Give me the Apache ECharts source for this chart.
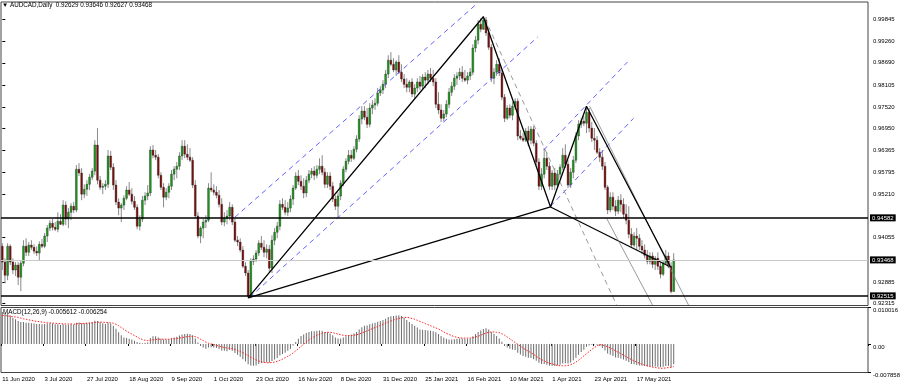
<!DOCTYPE html>
<html><head><meta charset="utf-8">
<script src="https://cdn.jsdelivr.net/npm/echarts/dist/echarts.min.js"></script>
<style>html,body{margin:0;padding:0;background:#fff}#c{width:900px;height:387px}</style>
</head><body><div id="c"></div>
<script>
const openP = [.9383,.9341,.9306,.9383,.9341,.9320,.9333,.9301,.9338,.9383,.9367,.9386,.9380,.9370,.9365,.9388,.9383,.9410,.9431,.9444,
.9433,.9428,.9449,.9441,.9492,.9455,.9473,.9489,.9479,.9587,.9577,.9521,.9534,.9547,.9566,.9582,.9651,.9558,.9539,.9542,
.9547,.9622,.9592,.9545,.9500,.9484,.9492,.9510,.9532,.9521,.9502,.9486,.9436,.9455,.9505,.9516,.9524,.9638,.9624,.9619,
.9571,.9539,.9513,.9526,.9542,.9574,.9587,.9595,.9622,.9648,.9627,.9619,.9611,.9545,.9463,.9410,.9431,.9447,.9452,.9537,
.9532,.9526,.9518,.9494,.9447,.9457,.9463,.9486,.9447,.9399,.9394,.9373,.9330,.9312,.9251,.9343,.9349,.9365,.9391,.9380,
.9367,.9375,.9325,.9399,.9420,.9436,.9494,.9486,.9473,.9484,.9508,.9537,.9569,.9555,.9542,.9524,.9558,.9574,.9582,.9571,
.9587,.9595,.9579,.9547,.9569,.9542,.9508,.9489,.9516,.9550,.9587,.9608,.9624,.9616,.9640,.9667,.9720,.9741,.9725,.9706,
.9749,.9757,.9762,.9789,.9797,.9812,.9839,.9876,.9865,.9850,.9871,.9844,.9826,.9812,.9804,.9818,.9786,.9802,.9818,.9807,
.9831,.9823,.9839,.9828,.9818,.9759,.9744,.9722,.9733,.9759,.9791,.9807,.9828,.9834,.9844,.9828,.9823,.9834,.9844,.9908,
.9929,.9971,.9958,.9982,.9948,.9910,.9828,.9844,.9865,.9842,.9778,.9722,.9749,.9730,.9754,.9767,.9675,.9669,.9664,.9688,
.9664,.9693,.9656,.9606,.9542,.9574,.9616,.9595,.9542,.9577,.9545,.9574,.9592,.9624,.9600,.9545,.9579,.9611,.9675,.9706,
.9714,.9709,.9738,.9696,.9669,.9664,.9632,.9619,.9595,.9539,.9479,.9513,.9489,.9476,.9505,.9494,.9468,.9452,.9415,.9386,
.9410,.9404,.9383,.9373,.9359,.9343,.9357,.9335,.9351,.9330,.9309,.9338,.9357,.9330,.92629];
const highP = [.9391,.9351,.9391,.9388,.9351,.9341,.9341,.9346,.9399,.9404,.9394,.9399,.9388,.9383,.9396,.9402,.9418,.9439,.9452,.9455,
.9447,.9473,.9468,.9505,.9502,.9484,.9497,.9500,.9598,.9603,.9590,.9547,.9558,.9574,.9590,.9664,.9696,.9569,.9550,.9558,
.9638,.9635,.9603,.9558,.9510,.9497,.9518,.9542,.9553,.9537,.9516,.9494,.9465,.9516,.9526,.9545,.9648,.9651,.9638,.9627,
.9579,.9550,.9537,.9550,.9585,.9595,.9606,.9632,.9664,.9664,.9653,.9643,.9619,.9558,.9473,.9436,.9457,.9465,.9550,.9579,
.9547,.9542,.9532,.9510,.9473,.9479,.9500,.9494,.9457,.9410,.9404,.9383,.9341,.9320,.9351,.9359,.9373,.9399,.9410,.9399,
.9388,.9386,.9412,.9431,.9447,.9505,.9510,.9505,.9500,.9518,.9545,.9579,.9585,.9571,.9563,.9569,.9585,.9590,.9595,.9598,
.9616,.9624,.9590,.9579,.9579,.9553,.9518,.9526,.9558,.9595,.9616,.9638,.9638,.9648,.9677,.9730,.9754,.9754,.9749,.9762,
.9770,.9775,.9802,.9807,.9823,.9850,.9889,.9897,.9881,.9876,.9889,.9865,.9839,.9828,.9823,.9828,.9812,.9828,.9834,.9839,
.9844,.9850,.9855,.9850,.9828,.9791,.9759,.9744,.9770,.9802,.9818,.9839,.9844,.9855,.9860,.9850,.9844,.9855,.9918,.9940,
.9982,.9987,.9993,.9990,.9961,.9918,.9855,.9876,.9881,.9850,.9786,.9757,.9759,.9765,.9775,.9775,.9691,.9683,.9696,.9701,
.9701,.9701,.9664,.9616,.9590,.9643,.9632,.9606,.9585,.9590,.9585,.9600,.9643,.9653,.9611,.9590,.9622,.9685,.9717,.9722,
.9728,.9751,.9749,.9712,.9696,.9675,.9643,.9638,.9606,.9545,.9526,.9526,.9505,.9516,.9521,.9510,.9494,.9489,.9431,.9420,
.9431,.9415,.9399,.9388,.9373,.9367,.9367,.9357,.9367,.9341,.9346,.9373,.9367,.9341,.93646];
const lowP = [.9320,.9285,.9293,.9333,.9309,.9304,.9280,.9264,.9330,.9357,.9357,.9373,.9362,.9357,.9346,.9378,.9378,.9394,.9423,.9425,
.9423,.9420,.9439,.9436,.9439,.9431,.9452,.9471,.9473,.9569,.9505,.9510,.9516,.9532,.9558,.9571,.9547,.9532,.9521,.9532,
.9537,.9585,.9532,.9492,.9465,.9447,.9479,.9505,.9516,.9494,.9479,.9428,.9425,.9447,.9492,.9505,.9516,.9616,.9611,.9563,
.9532,.9486,.9505,.9510,.9532,.9558,.9563,.9585,.9611,.9616,.9611,.9606,.9537,.9457,.9404,.9391,.9404,.9431,.9447,.9526,
.9518,.9510,.9486,.9439,.9436,.9441,.9452,.9439,.9394,.9383,.9367,.9325,.9304,.9245,.9245,.9333,.9341,.9357,.9373,.9354,
.9351,.9314,.9312,.9386,.9404,.9425,.9479,.9465,.9463,.9473,.9492,.9532,.9545,.9532,.9510,.9513,.9550,.9563,.9558,.9563,
.9574,.9571,.9537,.9537,.9532,.9500,.9479,.9460,.9505,.9542,.9579,.9600,.9606,.9611,.9632,.9659,.9706,.9717,.9696,.9698,
.9733,.9744,.9754,.9781,.9786,.9802,.9828,.9860,.9844,.9834,.9839,.9818,.9802,.9791,.9791,.9778,.9775,.9791,.9797,.9797,
.9802,.9812,.9818,.9807,.9749,.9733,.9712,.9714,.9725,.9749,.9781,.9797,.9810,.9823,.9818,.9818,.9812,.9823,.9836,.9897,
.9918,.9950,.9956,.9940,.9903,.9818,.9812,.9834,.9834,.9770,.9712,.9717,.9722,.9717,.9744,.9664,.9664,.9659,.9659,.9648,
.9653,.9648,.9598,.9532,.9532,.9563,.9585,.9532,.9532,.9532,.9537,.9563,.9585,.9590,.9537,.9537,.9563,.9603,.9664,.9696,
.9701,.9683,.9685,.9659,.9638,.9627,.9606,.9585,.9532,.9468,.9473,.9479,.9463,.9468,.9473,.9457,.9441,.9404,.9378,.9380,
.9373,.9373,.9362,.9351,.9335,.9335,.9325,.9320,.9320,.9298,.9304,.9333,.9325,.9258,.92627];
const closeP = [.9341,.9306,.9383,.9341,.9320,.9333,.9301,.9338,.9383,.9367,.9386,.9380,.9370,.9365,.9388,.9383,.9410,.9431,.9444,.9433,
.9428,.9449,.9441,.9492,.9455,.9473,.9489,.9479,.9587,.9577,.9521,.9534,.9547,.9566,.9582,.9651,.9558,.9539,.9542,.9547,
.9622,.9592,.9545,.9500,.9484,.9492,.9510,.9532,.9521,.9502,.9486,.9436,.9455,.9505,.9516,.9524,.9638,.9624,.9619,.9571,
.9539,.9513,.9526,.9542,.9574,.9587,.9595,.9622,.9648,.9627,.9619,.9611,.9545,.9463,.9410,.9431,.9447,.9452,.9537,.9532,
.9526,.9518,.9494,.9447,.9457,.9463,.9486,.9447,.9399,.9394,.9373,.9330,.9312,.9251,.9343,.9349,.9365,.9391,.9380,.9367,
.9375,.9325,.9399,.9420,.9436,.9494,.9486,.9473,.9484,.9508,.9537,.9569,.9555,.9542,.9524,.9558,.9574,.9582,.9571,.9587,
.9595,.9579,.9547,.9569,.9542,.9508,.9489,.9516,.9550,.9587,.9608,.9624,.9616,.9640,.9667,.9720,.9741,.9725,.9706,.9749,
.9757,.9762,.9789,.9797,.9812,.9839,.9876,.9865,.9850,.9871,.9844,.9826,.9812,.9804,.9818,.9786,.9802,.9818,.9807,.9831,
.9823,.9839,.9828,.9818,.9759,.9744,.9722,.9733,.9759,.9791,.9807,.9828,.9834,.9844,.9828,.9823,.9834,.9844,.9908,.9929,
.9971,.9958,.9982,.9948,.9910,.9828,.9844,.9865,.9842,.9778,.9722,.9749,.9730,.9754,.9767,.9675,.9669,.9664,.9688,.9664,
.9693,.9656,.9606,.9542,.9574,.9616,.9595,.9542,.9577,.9545,.9574,.9592,.9624,.9600,.9545,.9579,.9611,.9675,.9706,.9714,
.9709,.9738,.9696,.9669,.9664,.9632,.9619,.9595,.9539,.9479,.9513,.9489,.9476,.9505,.9494,.9468,.9452,.9415,.9386,.9410,
.9404,.9383,.9373,.9359,.9343,.9357,.9335,.9351,.9330,.9309,.9338,.9357,.9330,.9263,.93468];
const macdHist = [.0088,.0086,.0082,.0078,.0072,.0068,.0063,.0060,.0060,.0058,.0058,.0057,.0056,.0055,.0055,.0054,.0055,.0056,.0057,.0056,
.0054,.0054,.0052,.0054,.0053,.0053,.0054,.0053,.0058,.0059,.0057,.0057,.0058,.0059,.0060,.0064,.0063,.0060,.0057,.0055,
.0058,.0056,.0050,.0042,.0032,.0024,.0018,.0016,.0014,.0012,.0009,.0005,.0003,.0002,.0003,.0004,.0016,.0021,.0021,.0018,
.0014,.0012,.0012,.0013,.0016,.0018,.0020,.0023,.0026,.0027,.0028,.0027,.0024,.0015,.0004,-.0006,-.0010,-.0013,-.0010,-.0009,
-.0010,-.0011,-.0014,-.0018,-.0019,-.0020,-.0017,-.0019,-.0025,-.0030,-.0035,-.0042,-.0048,-.0056,-.0059,-.0060,-.0059,-.0055,-.0053,-.0052,
-.0051,-.0052,-.0047,-.0043,-.0039,-.0032,-.0028,-.0024,-.0019,-.0014,-.0004,.0005,.0014,.0022,.0026,.0030,.0033,.0035,.0035,.0036,
.0037,.0036,.0033,.0032,.0029,.0024,.0018,.0015,.0015,.0018,.0021,.0024,.0026,.0029,.0033,.0040,.0046,.0050,.0051,.0054,
.0056,.0058,.0061,.0063,.0066,.0069,.0074,.0076,.0077,.0078,.0079,.0077,.0071,.0066,.0060,.0055,.0050,.0045,.0040,.0039,
.0038,.0037,.0036,.0035,.0032,.0027,.0022,.0017,.0014,.0012,.0012,.0013,.0014,.0015,.0015,.0014,.0014,.0015,.0021,.0027,
.0033,.0037,.0041,.0043,.0040,.0033,.0028,.0022,.0015,.0006,-.0006,-.0010,-.0013,-.0015,-.0017,-.0024,-.0029,-.0033,-.0035,-.0038,
-.0039,-.0042,-.0046,-.0052,-.0055,-.0055,-.0057,-.0060,-.0060,-.0061,-.0059,-.0057,-.0054,-.0053,-.0054,-.0051,-.0045,-.0038,-.0030,-.0022,
-.0016,-.0008,-.0004,-.0002,-.0001,-.0002,-.0006,-.0011,-.0018,-.0026,-.0030,-.0033,-.0037,-.0038,-.0040,-.0043,-.0046,-.0050,-.0055,-.0056,
-.0058,-.0059,-.0060,-.0061,-.0062,-.0062,-.0063,-.0062,-.0063,-.0064,-.0063,-.0061,-.0061,-.0065,-.005612];
const macdSignal = [.0078,.0078,.0077,.0076,.0075,.0074,.0073,.0071,.0069,.0068,.0066,.0065,.0063,.0062,.0061,.0060,.0059,.0058,.0058,.0057,
.0057,.0056,.0056,.0055,.0055,.0055,.0055,.0054,.0055,.0056,.0056,.0056,.0057,.0057,.0058,.0059,.0060,.0060,.0060,.0059,
.0059,.0058,.0057,.0054,.0050,.0045,.0040,.0035,.0031,.0027,.0023,.0019,.0015,.0012,.0010,.0009,.0010,.0011,.0012,.0013,
.0013,.0013,.0013,.0013,.0014,.0014,.0015,.0016,.0017,.0019,.0020,.0021,.0021,.0020,.0017,.0013,.0009,.0005,.0002,.0000,
-.0002,-.0004,-.0006,-.0008,-.0010,-.0011,-.0012,-.0013,-.0015,-.0018,-.0021,-.0024,-.0028,-.0032,-.0037,-.0041,-.0044,-.0047,-.0049,-.0051,
-.0052,-.0052,-.0051,-.0050,-.0048,-.0045,-.0042,-.0038,-.0034,-.0030,-.0025,-.0019,-.0013,-.0007,-.0001,.0005,.0011,.0016,.0020,.0024,
.0027,.0029,.0031,.0032,.0032,.0031,.0029,.0027,.0025,.0024,.0023,.0023,.0023,.0024,.0025,.0027,.0030,.0033,.0036,.0039,
.0042,.0045,.0048,.0051,.0054,.0057,.0060,.0063,.0066,.0068,.0070,.0072,.0073,.0073,.0072,.0070,.0068,.0065,.0062,.0059,
.0056,.0053,.0050,.0047,.0044,.0041,.0037,.0033,.0029,.0026,.0023,.0020,.0018,.0017,.0016,.0016,.0016,.0016,.0017,.0019,
.0021,.0024,.0027,.0030,.0032,.0033,.0033,.0032,.0031,.0028,.0024,.0019,.0014,.0009,.0004,-.0001,-.0006,-.0011,-.0016,-.0020,
-.0024,-.0029,-.0034,-.0039,-.0043,-.0047,-.0050,-.0053,-.0055,-.0057,-.0059,-.0060,-.0060,-.0060,-.0059,-.0057,-.0054,-.0050,-.0045,-.0039,
-.0033,-.0027,-.0021,-.0015,-.0010,-.0005,-.0002,-.0003,-.0005,-.0008,-.0011,-.0015,-.0019,-.0023,-.0027,-.0031,-.0035,-.0039,-.0043,-.0047,
-.0050,-.0053,-.0056,-.0058,-.0060,-.0062,-.0064,-.0065,-.0066,-.0067,-.0067,-.0066,-.0065,-.0064,-.006254];

const dateTicks = ['11 Jun 2020','3 Jul 2020','27 Jul 2020','18 Aug 2020','9 Sep 2020','1 Oct 2020','23 Oct 2020','16 Nov 2020',
  '8 Dec 2020','31 Dec 2020','25 Jan 2021','16 Feb 2021','10 Mar 2021','1 Apr 2021','23 Apr 2021','17 May 2021'];
const priceTicks = [0.99845,0.99260,0.98690,0.98105,0.97520,0.96950,0.96365,0.95795,0.95210,0.94055,0.92885,0.92315];
const macdTicks = [0.010016, 0, -0.007858];
const levelLines = [0.94582, 0.92515];
const bidLine = 0.93468;
// harmonic pattern points X, A, B, C, D as [bar index, price]
const patX = [93, 0.9246], patA = [182, 0.9991], patB = [207.4, 0.9487], patC = [221, 0.9754], patD = [252.8, 0.9328];
const blueChannels = [
  [[88.0, 0.9460], [179.8, 1.0027]],
  [[93.6, 0.9248], [202.5, 0.9937]],
  [[204.8, 0.9638], [236.5, 0.9871]],
  [[207.4, 0.9489], [238.8, 0.9722]]
];
const grayDashed = [[[182.5, 0.9987], [232.4, 0.9227]]];
const graySolid = [[[222.2, 0.9754], [259.6, 0.9227]], [[228.6, 0.9457], [246.0, 0.9227]]];

const N_SLOTS = 328;
const holidays = ['2020-12-25', '2021-01-01'];
const months = ['Jan','Feb','Mar','Apr','May','Jun','Jul','Aug','Sep','Oct','Nov','Dec'];
const categories = [];
{
  let d = new Date(Date.UTC(2020, 5, 11));
  while (categories.length < N_SLOTS) {
    const dow = d.getUTCDay();
    const iso = d.toISOString().slice(0, 10);
    if (dow !== 0 && dow !== 6 && holidays.indexOf(iso) < 0) {
      categories.push(d.getUTCDate() + ' ' + months[d.getUTCMonth()] + ' ' + d.getUTCFullYear());
    }
    d = new Date(d.getTime() + 86400000);
  }
}
const nBars = closeP.length;
const candleData = closeP.map((c, i) => [i, openP[i], highP[i], lowP[i], c]);
const FONT = 'Liberation Sans, Arial, sans-serif';
const showTick = (idx, val) => idx < nBars && dateTicks.indexOf(val) >= 0;
const X_MIN = -0.5, X_MAX = N_SLOTS - 0.5;

function seg(p, q, style, label) {
  return [{coord: p, lineStyle: style, label: label || {show: false}}, {coord: q}];
}
const blackStyle = {color: '#000', width: 1.3, type: 'solid'};
const blueStyle = {color: '#5050ff', width: 0.9, type: [5, 4]};
const grayDashStyle = {color: '#808080', width: 0.8, type: [5, 4]};
const graySolidStyle = {color: '#808080', width: 0.8, type: 'solid'};
const hlLabel = (v) => ({show: true, position: 'end', distance: 2, formatter: v.toFixed(5),
  backgroundColor: '#000', color: '#fff', fontSize: 6, fontFamily: FONT, padding: [1, 2, 0, 2]});
const hLine = (v, style) => seg([X_MIN, v], [X_MAX, v], style, hlLabel(v));

const markData = [
  seg(patX, patB, blackStyle),
  seg(patB, patD, blackStyle),
  ...blueChannels.map(s => seg(s[0], s[1], blueStyle)),
  ...grayDashed.map(s => seg(s[0], s[1], grayDashStyle)),
  ...graySolid.map(s => seg(s[0], s[1], graySolidStyle)),
  hLine(bidLine, {color: '#c8c8c8', width: 1, type: 'solid'}),
  hLine(levelLines[0], {color: '#000', width: 1.5, type: 'solid'}),
  hLine(levelLines[1], {color: '#000', width: 1.5, type: 'solid'})
];

const chart = echarts.init(document.getElementById('c'), null, {renderer: 'canvas'});
chart.setOption({
  animation: false,
  backgroundColor: '#fff',
  textStyle: {fontFamily: FONT},
  title: [
    {text: '\u25BC AUDCAD,Daily  ' + openP[nBars-1].toFixed(5) + ' ' + highP[nBars-1].toFixed(5) + ' ' + lowP[nBars-1].toFixed(5) + ' ' + closeP[nBars-1].toFixed(5),
     left: 2, top: 2, padding: 0, textStyle: {fontSize: 6.3, fontWeight: 'normal', color: '#000', fontFamily: FONT}},
    {text: 'MACD(12,26,9) ' + macdHist[nBars-1].toFixed(6) + ' ' + macdSignal[nBars-1].toFixed(6),
     left: 3, top: 309, padding: 0, textStyle: {fontSize: 6.3, fontWeight: 'normal', color: '#000', fontFamily: FONT}}
  ],
  grid: [
    {left: 1, top: 2, width: 867, height: 303.5, show: true, borderColor: '#444', borderWidth: 1, backgroundColor: '#fff', outerBoundsMode: 'none'},
    {left: 1, top: 307.5, width: 867, height: 65, show: true, borderColor: '#444', borderWidth: 1, backgroundColor: '#fff', outerBoundsMode: 'none'}
  ],
  xAxis: [
    {type: 'category', gridIndex: 0, data: categories, boundaryGap: true,
     axisLine: {show: false}, axisTick: {show: false}, axisLabel: {show: false}, splitLine: {show: false}},
    {type: 'category', gridIndex: 1, data: categories, boundaryGap: true,
     axisLine: {show: false},
     axisTick: {show: true, interval: showTick, length: 2, lineStyle: {color: '#000'}},
     axisLabel: {show: true, interval: showTick, align: 'left', fontSize: 6, color: '#000', margin: 4, fontFamily: FONT},
     splitLine: {show: false}},
    {type: 'value', gridIndex: 0, min: X_MIN, max: X_MAX, show: false}
  ],
  yAxis: [
    {type: 'value', gridIndex: 0, position: 'right', min: 0.9226, max: 1.0030, scale: true,
     axisLine: {show: false}, splitLine: {show: false},
     axisTick: {show: true, customValues: priceTicks, length: 3, lineStyle: {color: '#000'}},
     axisLabel: {show: true, customValues: priceTicks, formatter: v => v.toFixed(5), fontSize: 6, color: '#000', margin: 5, fontFamily: FONT}},
    {type: 'value', gridIndex: 1, position: 'right', min: macdTicks[2], max: macdTicks[0], scale: true,
     axisLine: {show: false}, splitLine: {show: false},
     axisTick: {show: true, customValues: macdTicks, length: 3, lineStyle: {color: '#000'}},
     axisLabel: {show: true, customValues: macdTicks, formatter: v => (v === 0 ? '0.00' : v.toFixed(6)), fontSize: 6, color: '#000', margin: 5, verticalAlign: 'top', fontFamily: FONT}}
  ],
  series: [
    {
      type: 'custom', name: 'AUDCAD', xAxisIndex: 0, yAxisIndex: 0, data: candleData,
      encode: {x: 0, y: [1, 2, 3, 4]}, clip: true, z: 2,
      renderItem: function (params, api) {
        const i = api.value(0), o = api.value(1), h = api.value(2), l = api.value(3), c = api.value(4);
        const po = api.coord([i, o]), pc = api.coord([i, c]), ph = api.coord([i, h]), pl = api.coord([i, l]);
        const x = po[0], w = 1.8;
        const top = Math.min(po[1], pc[1]), bot = Math.max(po[1], pc[1]);
        const up = c >= o;
        return {type: 'group', children: [
          {type: 'line', shape: {x1: x, y1: ph[1], x2: x, y2: pl[1]}, style: {stroke: '#8a8a8a', lineWidth: 1}},
          {type: 'rect', shape: {x: x - w / 2, y: top, width: w, height: Math.max(bot - top, 0.8)},
           style: {fill: up ? '#16a016' : '#850a0a', stroke: '#2a2a2a', lineWidth: 0.4}}
        ]};
      }
    },
    {
      type: 'line', name: 'pattern', xAxisIndex: 2, yAxisIndex: 0, z: 5,
      data: [patX, patA, patB, patC, patD], symbol: 'none', silent: true,
      lineStyle: {color: '#000', width: 1.3},
      markLine: {symbol: ['none', 'none'], silent: true, animation: false, label: {show: false}, data: markData}
    },
    {
      type: 'bar', name: 'MACD', xAxisIndex: 1, yAxisIndex: 1, data: macdHist, barWidth: 1,
      itemStyle: {color: '#6c6c6c'}, silent: true
    },
    {
      type: 'line', name: 'Signal', xAxisIndex: 1, yAxisIndex: 1, data: macdSignal, symbol: 'none', silent: true,
      lineStyle: {color: '#ff2020', width: 1, type: [1.5, 1.5]}
    }
  ]
});
</script>
</body></html>
